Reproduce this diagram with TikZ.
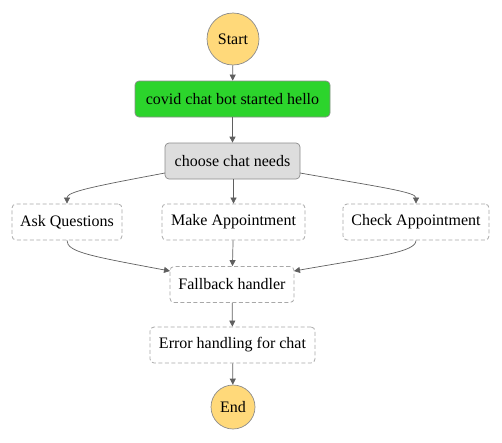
\documentclass[tikz,border=0pt]{standalone}
\usepackage{fontspec}
\setmainfont{Liberation Serif}
\usetikzlibrary{arrows.meta}
\definecolor{startfill}{HTML}{FFD97A}
\definecolor{okgreen}{HTML}{2CD42C}
\definecolor{choosefill}{HTML}{DDDDDD}
\definecolor{edgecol}{HTML}{5F5F5F}
\definecolor{bordercol}{HTML}{8C8C8C}
\definecolor{dashcol}{HTML}{A8A8A8}
\tikzset{
  every node/.style={font=\fontsize{16}{18}\selectfont, text=black},
  terminal/.style={circle, draw=bordercol, fill=startfill, line width=0.7pt, inner sep=0pt},
  solidbox/.style={draw=bordercol, rounded corners=4pt, line width=0.7pt, inner sep=0pt, minimum height=36pt},
  dashbox/.style={draw=dashcol, dashed, dash pattern=on 4pt off 2.5pt, rounded corners=4pt, line width=0.8pt, inner sep=0pt, minimum height=36pt},
  conn/.style={draw=edgecol, line width=0.7pt, -{Triangle[length=6pt,width=6pt]}},
}
\begin{document}
\begin{tikzpicture}[x=1pt,y=-1pt]
\useasboundingbox (0,0) rectangle (502,442);
\node[terminal, minimum size=52pt] (start) at (233,39) {Start};
\node[solidbox, fill=okgreen, minimum width=195pt] (hello) at (232.5,99) {covid chat bot started hello};
\node[solidbox, fill=choosefill, minimum width=135pt] (choose) at (232.5,161) {choose chat needs};
\node[dashbox, minimum width=110pt] (ask) at (67,222) {Ask Questions};
\node[dashbox, minimum width=143pt] (make) at (233.5,222) {Make Appointment};
\node[dashbox, minimum width=146pt] (check) at (416,222) {Check Appointment};
\node[dashbox, minimum width=124pt] (fall) at (232,284.5) {Fallback handler};
\node[dashbox, minimum width=165pt] (err) at (232.5,345) {Error handling for chat};
\node[terminal, minimum size=44pt] (end) at (233,407) {End};

\draw[conn] (start) -- (hello);
\draw[conn] (hello) -- (choose);
\draw[conn] (choose.south -| make.north) -- (make);
\draw[conn] (make) -- (fall);
\draw[conn] (fall) -- (err);
\draw[conn] (err) -- (end);

\coordinate (cl) at (165,173);
\coordinate (cr) at (300,173);
\coordinate (fl) at (170,271);
\coordinate (fr) at (294,271);
\draw[conn] (cl) .. controls (90,187) and (67,192) .. (ask.north);
\draw[conn] (cr) .. controls (380,187) and (416,192) .. (check.north);
\draw[conn] (ask.south) .. controls (67,252) and (90,256) .. (fl);
\draw[conn] (check.south) .. controls (416,252) and (380,256) .. (fr);
\end{tikzpicture}
\end{document}
